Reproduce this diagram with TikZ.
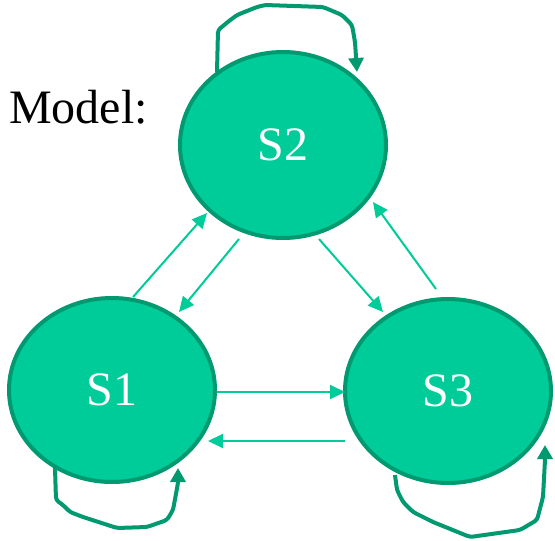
\documentclass[tikz,border=0pt]{standalone}
\usepackage{fontspec}
\setmainfont{Liberation Serif}
\usetikzlibrary{shapes.geometric,arrows.meta,calc}
\definecolor{stfill}{HTML}{00CC99}
\definecolor{stborder}{HTML}{009970}
\definecolor{arrcol}{HTML}{00CC99}
\definecolor{loopcol}{HTML}{009970}
\begin{document}
\begin{tikzpicture}[x=1pt,y=-1pt,
  state/.style={ellipse,draw=stborder,fill=stfill,line width=4pt,
    minimum width=206pt,minimum height=184pt,inner sep=0pt,
    text=white,font=\fontsize{48}{58}\selectfont},
  arr/.style={draw=arrcol,line width=2pt,-{Triangle[length=15pt,width=14pt]}},
  selfloop/.style={draw=loopcol,line width=4pt,rounded corners=3pt,line join=round,
    -{Triangle[length=14pt,width=15pt]}},
  lbl/.style={font=\fontsize{48}{58}\selectfont,inner sep=0pt,anchor=base west}]
\useasboundingbox (0,0) rectangle (555,541);
\fill[white] (0,0) rectangle (555,541);

\node[lbl] (model) at (9,123) {Model:};

% self loops drawn before states so they sit behind borders
\node[state,minimum height=186pt] (s2) at (283,145) {S2};
\node[state] (s1) at (112,390) {S1};
\node[state] (s3) at (448,391) {S3};

\draw[selfloop] ($(s2)+(-66,-73)$) -- ($(s2)+(-65,-115)$) -- ($(s2)+(-60,-119)$)
  -- ($(s2)+(-54,-124)$) -- ($(s2)+(-46,-130)$) -- ($(s2)+(-26,-138)$)
  -- ($(s2)+(-18,-140)$) -- ($(s2)+(40,-138)$) -- ($(s2)+(59,-130)$)
  -- ($(s2)+(69,-120)$) -- ($(s2)+(72,-103)$) -- ($(s2)+(74,-73)$);

\draw[selfloop] ($(s1)+(-57,78)$) -- ($(s1)+(-56,110)$) -- ($(s1)+(-49,115)$)
  -- ($(s1)+(-42,122)$) -- ($(s1)+(-29,127)$) -- ($(s1)+(5,138)$)
  -- ($(s1)+(35,137)$) -- ($(s1)+(55,130)$) -- ($(s1)+(61,120)$)
  -- ($(s1)+(66,93)$) -- ($(s1)+(66,78)$);

\draw[selfloop] ($(s3)+(-53,84)$) -- ($(s3)+(-51,99)$) -- ($(s3)+(-45,111)$)
  -- ($(s3)+(-35,121)$) -- ($(s3)+(-15,131)$) -- ($(s3)+(22,146)$)
  -- ($(s3)+(72,139)$) -- ($(s3)+(89,129)$) -- ($(s3)+(95,106)$)
  -- ($(s3)+(97,69)$) -- ($(s3)+(97,54)$);

\draw[arr] ($(s1)+(21,-93)$) -- ($(s2)+(-76,68)$);
\draw[arr] ($(s2)+(-44,94)$) -- ($(s1)+(67,-78)$);
\draw[arr] ($(s2)+(36,94)$) -- ($(s3)+(-65,-79)$);
\draw[arr] ($(s3)+(-12,-102)$) -- ($(s2)+(90,57)$);
\draw[arr] ($(s1)+(105,2)$) -- ($(s3)+(-103,1)$);
\draw[arr] ($(s3)+(-103,50)$) -- ($(s1)+(96,51)$);
\end{tikzpicture}
\end{document}
